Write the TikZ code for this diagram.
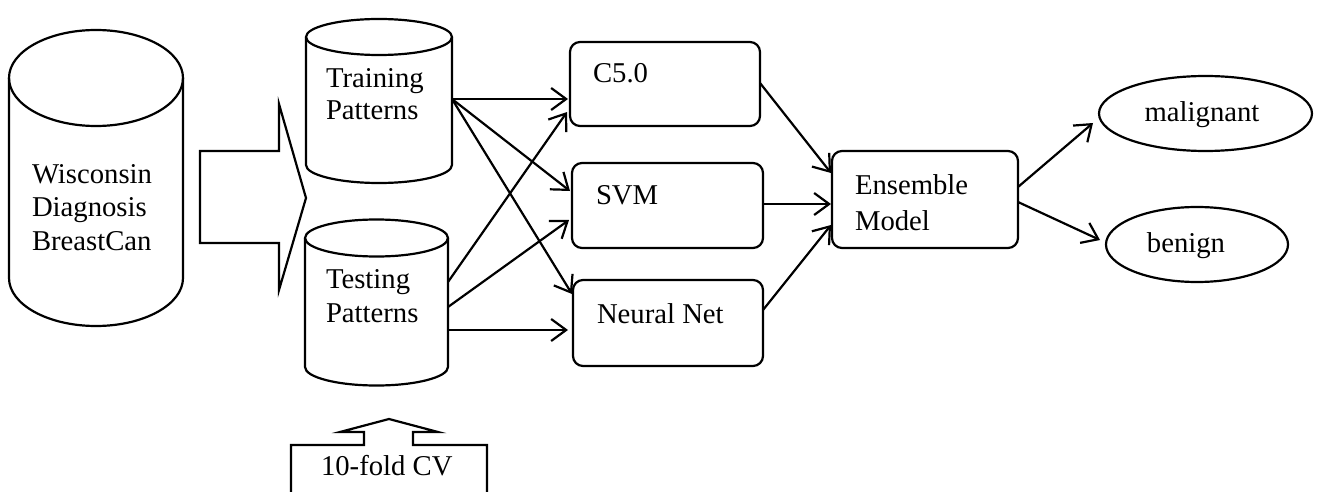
\documentclass[tikz,border=0pt]{standalone}
\usepackage{fontspec}
\setmainfont{Liberation Serif}
\usetikzlibrary{arrows.meta,calc,shapes.geometric}
\newcommand\cylpath[5]{% #1 cx, #2 rx, #3 top centre y, #4 bottom centre y, #5 ry
  \draw (#1,#3) ellipse [x radius=#2, y radius=#5];
  \draw (#1-#2,#3) -- (#1-#2,#4) arc[start angle=180,end angle=0,x radius=#2,y radius=#5] -- (#1+#2,#3);
}
\begin{document}
\begin{tikzpicture}[x=1pt,y=-1pt,
  line width=2.2pt,
  every node/.style={inner sep=0pt, outer sep=0pt},
  lbl/.style={anchor=base west, align=left, font=\fontsize{28.7}{#1}\selectfont},
  lbl/.default=33,
  clbl/.style={anchor=base, font=\fontsize{28.7}{33}\selectfont},
  procbox/.style n args={2}{draw, rounded corners=10pt, minimum width=#1, minimum height=#2},
  outcome/.style n args={2}{draw, ellipse, minimum width=#1, minimum height=#2},
  conn/.style={-{Straight Barb[length=15pt,width=22pt]}},
]
\useasboundingbox (0,0) rectangle (1333,492);

% data stores
\cylpath{96}{87}{78}{278}{48}
\cylpath{379}{73}{37}{165}{18}
\cylpath{376.5}{71.5}{238}{367}{18.5}

% multi-line labels: anchor base is the baseline of the last line
\node[lbl=33.5] (wdb) at (32,250) {Wisconsin\\Diagnosis\\BreastCan};
\node[lbl=32] (trtxt) at (326,120) {Training\\Patterns};
\node[lbl=34] (tetxt) at (326,322) {Testing\\Patterns};

% big block arrow
\draw (200,151) -- (279,151) -- (279,104) -- (306,198) -- (279,290) -- (279,243) -- (200,243) -- cycle;

% 10-fold CV box with up arrow
\draw (291,493) -- (291,445) -- (364,445) -- (364,432) -- (340,432) -- (389,419) -- (438,432) -- (413,432) -- (413,445) -- (487,445) -- (487,493);
\node[lbl] (cvtxt) at (321,475) {10-fold CV};

% classifiers
\node[procbox={190}{84}] (c50) at (665,84) {};
\node[procbox={191}{85}] (svm) at (667.5,205.5) {};
\node[procbox={190}{86}] (nn) at (668,323) {};
\node[lbl] (c50txt) at (593,83) {C5.0};
\node[lbl] (svmtxt) at (596,204) {SVM};
\node[lbl] (nntxt) at (597,323) {Neural Net};

% ensemble
\node[procbox={186}{97}] (ens) at (925,199.5) {};
\node[lbl=36] (enstxt) at (855,230) {Ensemble\\Model};

% outcomes
\node[outcome={213}{75}] (mal) at (1205.5,113.5) {};
\node[outcome={182}{75}] (ben) at (1197,244.5) {};
\node[clbl] (maltxt) at (1202,122) {malignant};
\node[clbl] (bentxt) at (1186,252) {benign};

% ports on the cylinders
\coordinate (trOut) at (452,99);
\coordinate (teOut1) at (448,282);
\coordinate (teOut2) at (448,307);
\coordinate (teOut3) at (448,330);

% connectors
\draw[conn] (trOut) -- ($(c50.west)+(-2,15)$);
\draw[conn] (trOut) -- ($(svm.west)+(-2,-14.5)$);
\draw[conn] (trOut) -- ($(nn.west)+(-1,-29)$);
\draw[conn] (teOut1) -- ($(c50.west)+(-3,28)$);
\draw[conn] (teOut2) -- ($(svm.west)+(-3,14.5)$);
\draw[conn] (teOut3) -- ($(nn.west)+(-5,7)$);

\draw[conn] ($(c50.east)+(0,-1)$) -- ($(ens.west)+(-1,-26.5)$);
\draw[conn] ($(svm.east)+(0,-1.5)$) -- ($(ens.west)+(-1,4.5)$);
\draw[conn] ($(nn.east)+(0,-13)$) -- ($(ens.west)+(-1,25.5)$);

\draw[conn] ($(ens.east)+(0,-12.5)$) -- ($(mal.west)+(-6,9.5)$);
\draw[conn] ($(ens.east)+(0,2.5)$) -- ($(ben.west)+(-6,-4.5)$);
\end{tikzpicture}
\end{document}
